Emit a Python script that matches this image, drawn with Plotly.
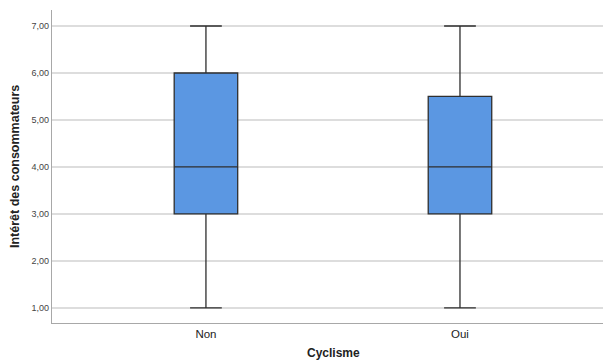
import plotly.graph_objects as go

categories = ["Non", "Oui"]
q1_vals = [3.0, 3.0]
median_vals = [4.0, 4.0]
q3_vals = [6.0, 5.5]
lower_vals = [1.0, 1.0]
upper_vals = [7.0, 7.0]
y_ticks = [1, 2, 3, 4, 5, 6, 7]
x_title = "Cyclisme"
y_title = "Intérêt des consommateurs"

W, H = 603, 363
ML, MR, MT, MB = 52, 0, 10, 40
plot_w = W - ML - MR
plot_h = H - MT - MB

fig = go.Figure()
fig.add_trace(go.Box(
    x=categories,
    q1=q1_vals, median=median_vals, q3=q3_vals,
    lowerfence=lower_vals, upperfence=upper_vals,
    fillcolor="#5B97E2",
    line=dict(color="#2f2f2f", width=1.3),
    whiskerwidth=0.5,
    width=0.25,
    boxpoints=False,
    hoverinfo="skip",
))

fig.update_layout(
    width=W, height=H,
    margin=dict(l=ML, r=MR, t=MT, b=MB),
    paper_bgcolor="white", plot_bgcolor="white",
    separators=",.",
    showlegend=False,
    font=dict(family="Liberation Sans, Arial, sans-serif", color="#222"),
    xaxis=dict(
        range=[-0.606, 1.563], automargin=False,
        showline=True, linecolor="#a8a8a8", linewidth=1.3,
        showgrid=False, zeroline=False,
        ticks="", tickfont=dict(size=11.5, color="#222"),
    ),
    yaxis=dict(
        range=[0.68, 7.34], automargin=False,
        tickvals=y_ticks, tickformat=".2f",
        showline=True, linecolor="#a8a8a8", linewidth=1.3,
        showgrid=True, gridcolor="#dddddd", gridwidth=1.5,
        zeroline=False, ticks="",
        tickfont=dict(size=9, color="#444"),
    ),
    annotations=[
        dict(text="<b>" + x_title + "</b>",
             x=(333 - ML) / plot_w, xref="paper", xanchor="center",
             y=(H - MB - 353) / plot_h, yref="paper", yanchor="middle", showarrow=False,
             font=dict(size=12, color="#222")),
        dict(text="<b>" + y_title + "</b>",
             x=(15 - ML) / plot_w, xref="paper", xanchor="center",
             y=(H - MB - 167) / plot_h, yref="paper", yanchor="middle",
             textangle=-90, showarrow=False,
             font=dict(size=12.5, color="#222")),
    ],
)

fig.write_html("out.html", config={"displayModeBar": False})

# remove the default browser body margin so the figure sits at the page origin
with open("out.html", "r", encoding="utf-8") as f:
    html = f.read()
html = html.replace("<head>", "<head><style>html,body{margin:0;padding:0;overflow:hidden;}</style>", 1)
with open("out.html", "w", encoding="utf-8") as f:
    f.write(html)
